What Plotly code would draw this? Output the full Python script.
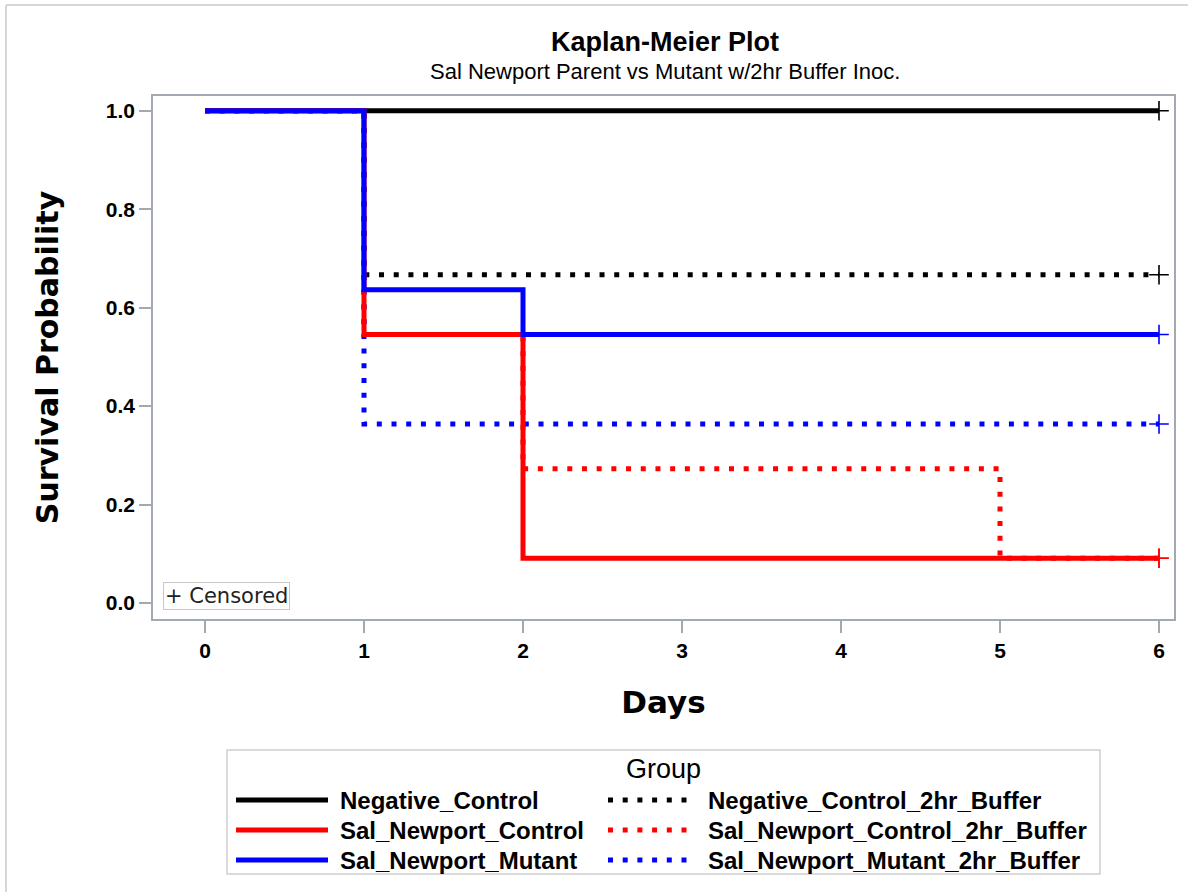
import plotly.graph_objects as go

# Kaplan-Meier step data per group: event times (days) and survival estimates
groups = [
    "Negative_Control",
    "Sal_Newport_Control",
    "Sal_Newport_Mutant",
    "Negative_Control_2hr_Buffer",
    "Sal_Newport_Control_2hr_Buffer",
    "Sal_Newport_Mutant_2hr_Buffer",
]
times = {
    "Negative_Control": [0, 6],
    "Sal_Newport_Control": [0, 1, 2, 6],
    "Sal_Newport_Mutant": [0, 1, 2, 6],
    "Negative_Control_2hr_Buffer": [0, 1, 6],
    "Sal_Newport_Control_2hr_Buffer": [0, 1, 2, 5, 6],
    "Sal_Newport_Mutant_2hr_Buffer": [0, 1, 6],
}
survival = {
    "Negative_Control": [1.0, 1.0],
    "Sal_Newport_Control": [1.0, 0.5455, 0.0909, 0.0909],
    "Sal_Newport_Mutant": [1.0, 0.6364, 0.5455, 0.5455],
    "Negative_Control_2hr_Buffer": [1.0, 0.6667, 0.6667],
    "Sal_Newport_Control_2hr_Buffer": [1.0, 0.5455, 0.2727, 0.0909, 0.0909],
    "Sal_Newport_Mutant_2hr_Buffer": [1.0, 0.3636, 0.3636],
}
# censoring time for each group (last follow-up day)
censor_day = 6

x_ticks = [0, 1, 2, 3, 4, 5, 6]
y_ticks = [0.0, 0.2, 0.4, 0.6, 0.8, 1.0]

colors = {
    "Negative_Control": "#000000",
    "Sal_Newport_Control": "#ff0000",
    "Sal_Newport_Mutant": "#0000ff",
    "Negative_Control_2hr_Buffer": "#000000",
    "Sal_Newport_Control_2hr_Buffer": "#ff0000",
    "Sal_Newport_Mutant_2hr_Buffer": "#0000ff",
}
DOT = "5px,9.7px"

# plot-area geometry in pixels (figure is 1188 x 892)
W, H = 1188, 892
L, R, T, B = 153, 1174, 96, 619


def px(xp):
    return (xp - L) / (R - L)


def py(yp):
    return (B - yp) / (B - T)


fig = go.Figure()

# dotted (buffer) curves first, solid curves on top
draw_order = [g for g in groups if g.endswith("_Buffer")] + [g for g in groups if not g.endswith("_Buffer")]
for g in draw_order:
    dotted = g.endswith("_Buffer")
    fig.add_trace(go.Scatter(
        x=times[g], y=survival[g], mode="lines", line_shape="hv",
        line=dict(color=colors[g], width=5, dash=DOT if dotted else "solid"),
        name=g, showlegend=False, hoverinfo="skip",
    ))

# censored observations
for g in groups:
    fig.add_trace(go.Scatter(
        x=[censor_day], y=[survival[g][-1]], mode="markers",
        marker=dict(symbol="cross-thin", size=14, line=dict(color=colors[g], width=1.6)),
        showlegend=False, hoverinfo="skip",
    ))

axis_col = "#a3a9b0"
tick_font = dict(family="Liberation Sans", size=21, color="#000000", weight="bold")

fig.update_xaxes(
    range=[(L - 205) / 159.0, (R - 205) / 159.0],
    tickvals=x_ticks, ticktext=[str(v) for v in x_ticks],
    showgrid=False, zeroline=False, showline=True, mirror=True,
    linecolor=axis_col, linewidth=1.5,
    ticks="outside", ticklen=12, tickcolor=axis_col, tickwidth=1.5,
    tickfont=tick_font,
    title=dict(text="<b>Days</b>", font=dict(family="DejaVu Sans", size=31, color="#000000"), standoff=30),
)
fig.update_yaxes(
    range=[-(B - 603) / 492.0, 1 + (110.7 - T) / 492.0],
    tickvals=y_ticks, ticktext=["%.1f" % v for v in y_ticks],
    showgrid=False, zeroline=False, showline=True, mirror=True,
    linecolor=axis_col, linewidth=1.5,
    ticks="outside", ticklen=12, tickcolor=axis_col, tickwidth=1.5,
    tickfont=tick_font,
    title=dict(text="<b>Survival Probability</b>", font=dict(family="DejaVu Sans", size=30, color="#000000"), standoff=38),
)

shapes = []
annotations = []

# outer page frame
shapes.append(dict(type="line", xref="paper", yref="paper", x0=px(6), x1=px(W + 5), y0=py(5), y1=py(5),
                   line=dict(color="#d6d6d6", width=2)))
shapes.append(dict(type="line", xref="paper", yref="paper", x0=px(6), x1=px(6), y0=py(5), y1=py(H + 5),
                   line=dict(color="#d6d6d6", width=2)))

# titles
annotations.append(dict(text="<b>Kaplan-Meier Plot</b>", xref="paper", yref="paper", x=px(665), y=py(42),
                        xanchor="center", yanchor="middle", showarrow=False,
                        font=dict(family="Liberation Sans", size=27, color="#000000")))
annotations.append(dict(text="Sal Newport Parent vs Mutant w/2hr Buffer Inoc.", xref="paper", yref="paper",
                        x=px(665), y=py(72), xanchor="center", yanchor="middle", showarrow=False,
                        font=dict(family="Liberation Sans", size=22, color="#000000")))

# censored key inside the plot
annotations.append(dict(text="+ Censored", xref="paper", yref="paper", x=px(163), y=py(596),
                        xanchor="left", yanchor="middle", showarrow=False,
                        font=dict(family="DejaVu Sans", size=21, color="#222222"),
                        bordercolor="#c8c8c8", borderwidth=1, borderpad=1, bgcolor="#ffffff"))

# group legend box
shapes.append(dict(type="rect", xref="paper", yref="paper", x0=px(227), x1=px(1100), y0=py(750), y1=py(874),
                   line=dict(color="#d0d0d0", width=1.5), fillcolor="rgba(0,0,0,0)"))
annotations.append(dict(text="Group", xref="paper", yref="paper", x=px(663), y=py(769),
                        xanchor="center", yanchor="middle", showarrow=False,
                        font=dict(family="Liberation Sans", size=27, color="#000000")))

legend_rows = [800, 830, 860]
col_line = [(236, 328), (608, 690)]
col_text = [338, 706]
legend_layout = [
    ["Negative_Control", "Negative_Control_2hr_Buffer"],
    ["Sal_Newport_Control", "Sal_Newport_Control_2hr_Buffer"],
    ["Sal_Newport_Mutant", "Sal_Newport_Mutant_2hr_Buffer"],
]
for r, row in enumerate(legend_layout):
    for c, g in enumerate(row):
        dotted = g.endswith("_Buffer")
        shapes.append(dict(type="line", xref="paper", yref="paper",
                           x0=px(col_line[c][0]), x1=px(col_line[c][1]),
                           y0=py(legend_rows[r]), y1=py(legend_rows[r]),
                           line=dict(color=colors[g], width=5, dash=DOT if dotted else "solid")))
        annotations.append(dict(text="<b>%s</b>" % g, xref="paper", yref="paper",
                                x=px(col_text[c]), y=py(legend_rows[r]), xanchor="left", yanchor="middle",
                                showarrow=False,
                                font=dict(family="Liberation Sans", size=24, color="#000000")))

fig.update_layout(
    width=W, height=H,
    margin=dict(l=L, r=W - R, t=T, b=H - B),
    plot_bgcolor="#ffffff", paper_bgcolor="#ffffff",
    shapes=shapes, annotations=annotations,
    showlegend=False,
)

fig.write_html("out.html")
